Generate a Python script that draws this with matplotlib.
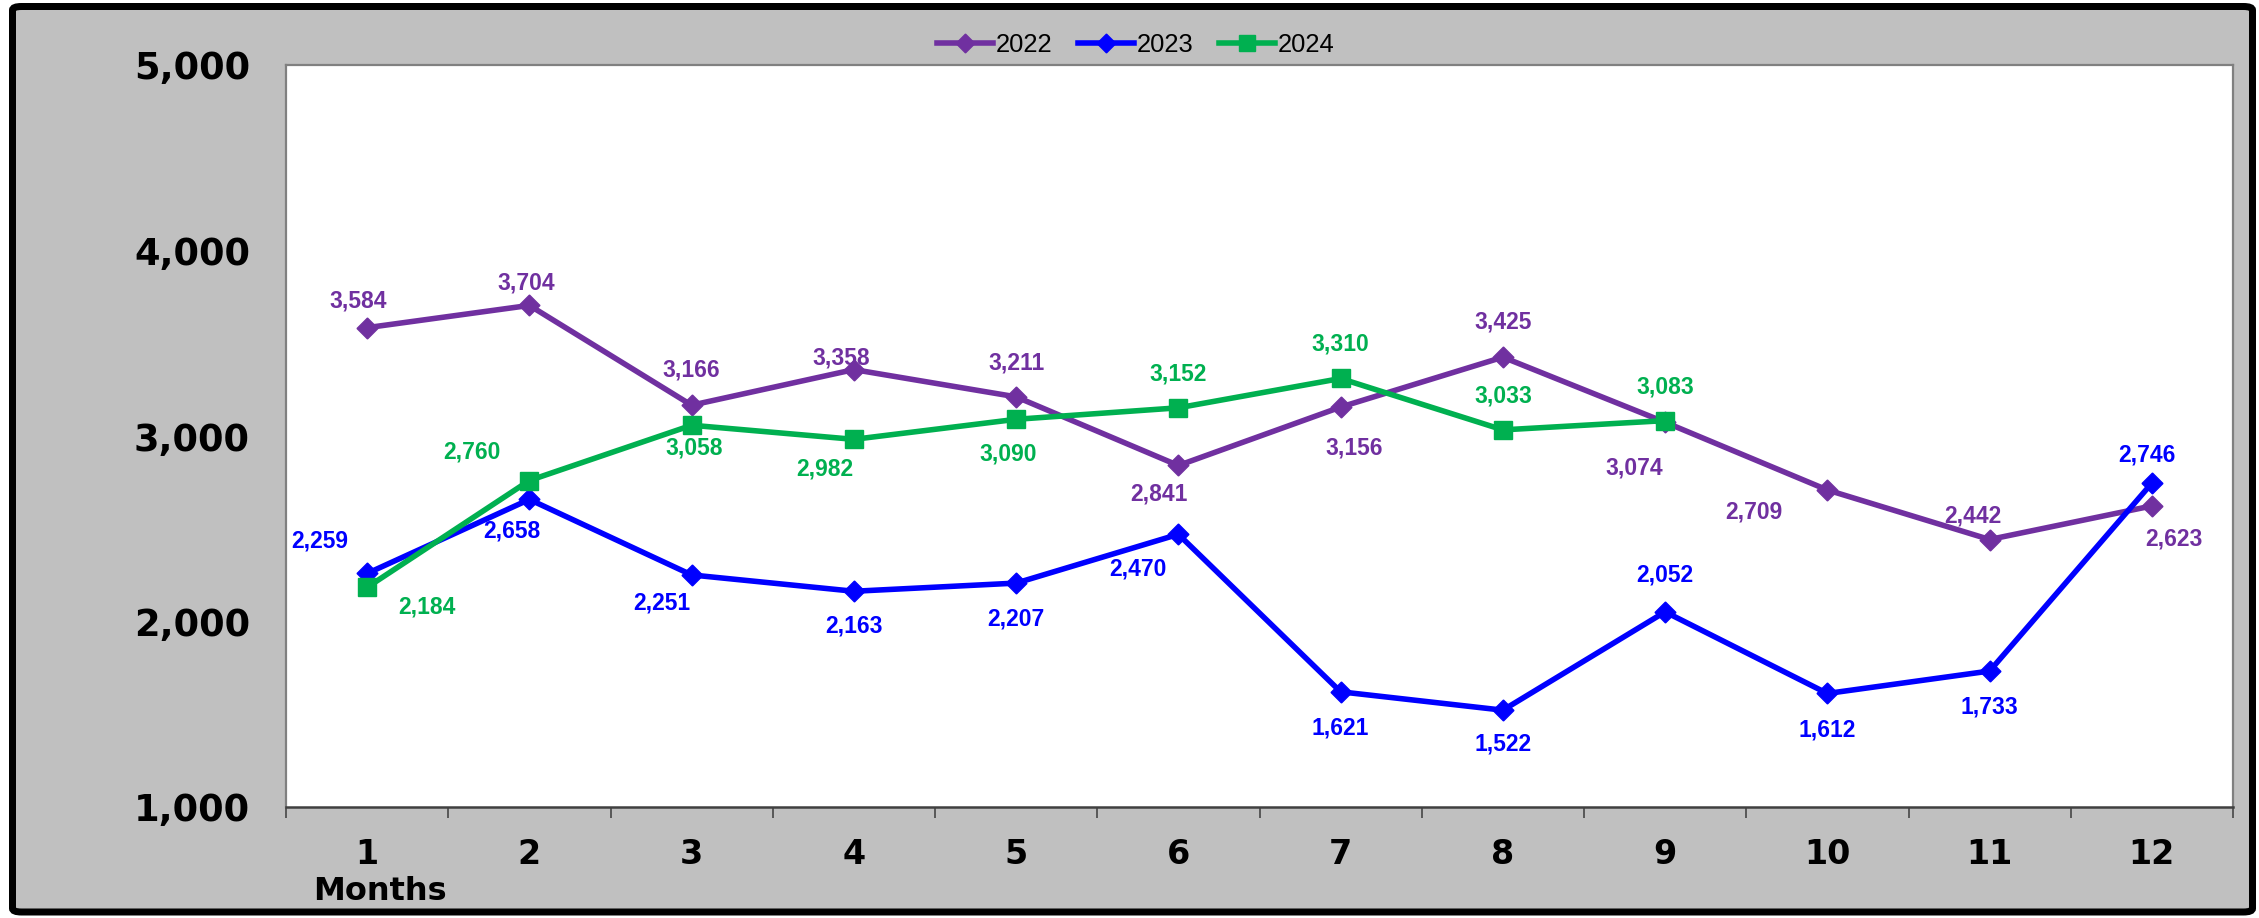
import matplotlib
matplotlib.use("Agg")
import matplotlib.pyplot as plt
from matplotlib.patches import FancyBboxPatch
from matplotlib.ticker import FixedLocator, NullFormatter

# ---------------- data ----------------
months = [1, 2, 3, 4, 5, 6, 7, 8, 9, 10, 11, 12]
sales_2022 = [3584, 3704, 3166, 3358, 3211, 2841, 3156, 3425, 3074, 2709, 2442, 2623]
sales_2023 = [2259, 2658, 2251, 2163, 2207, 2470, 1621, 1522, 2052, 1612, 1733, 2746]
months_2024 = [1, 2, 3, 4, 5, 6, 7, 8, 9]
sales_2024 = [2184, 2760, 3058, 2982, 3090, 3152, 3310, 3033, 3083]
y_ticks = [1000, 2000, 3000, 4000, 5000]
series_names = ["2022", "2023", "2024"]

# label offsets (pixels: dx, dy up-positive) -- layout, not data
off_2022 = [(-9, 27), (-3, 22), (0, 35), (-13, 12), (0, 34), (-19, -29),
            (14, -41), (0, 35), (-31, -46), (-74, -22), (-17, 24), (22, -33)]
off_2023 = [(-47, 32), (-18, -32), (-30, -28), (0, -35), (0, -36), (-40, -35),
            (0, -36), (0, -34), (0, 37), (0, -37), (0, -36), (-5, 28)]
off_2024 = [(60, -20), (-57, 29), (3, -23), (-29, -30), (-8, -35), (0, 34),
            (0, 34), (0, 34), (0, 34)]

W, H, DPI = 2259, 918, 100
fig = plt.figure(figsize=(W / DPI, H / DPI), dpi=DPI, facecolor="white")

# outer grey panel with black frame
lw_px = 7
frame = FancyBboxPatch((12.5 / W, (H - 912) / H), (2252.5 - 12.5) / W, (912 - 6.5) / H,
                       boxstyle="round,pad=0,rounding_size=0.004",
                       transform=fig.transFigure, facecolor="#C0C0C0",
                       edgecolor="black", linewidth=lw_px * 72 / DPI, zorder=-10)
fig.patches.append(frame)

left, right, top, bottom = 286, 2233, 65, 807
ax = fig.add_axes([left / W, (H - bottom) / H, (right - left) / W, (bottom - top) / H])
ax.set_zorder(1)
ax.set_facecolor("white")

purple, blue, green = "#7030A0", "#0000FF", "#00B050"
lw = 4
l1, = ax.plot(months, sales_2022, color=purple, lw=lw, marker=(4, 0, 0), ms=15,
              zorder=3, label=series_names[0])
l2, = ax.plot(months, sales_2023, color=blue, lw=lw, marker=(4, 0, 0), ms=15,
              zorder=4, label=series_names[1])
l3, = ax.plot(months_2024, sales_2024, color=green, lw=lw, marker="s", ms=13,
              zorder=5, label=series_names[2])

lab_font = dict(family=["Liberation Sans", "DejaVu Sans"], fontsize=16.5, fontweight="bold")
for xs, ys, offs, col in [(months, sales_2022, off_2022, purple),
                          (months, sales_2023, off_2023, blue),
                          (months_2024, sales_2024, off_2024, green)]:
    for x, y, (dx, dy) in zip(xs, ys, offs):
        ax.annotate(f"{y:,}", (x, y), xytext=(dx, dy), textcoords="offset pixels",
                    ha="center", va="center", color=col, zorder=6, **lab_font)

ax.set_xlim(0.5, 12.5)
ax.set_ylim(1000, 5000)

# y axis
ax.set_yticks(y_ticks)
ax.set_yticklabels([f"{v:,}" for v in y_ticks])
ax.tick_params(axis="y", length=0, pad=26, labelsize=26.5)
for t in ax.get_yticklabels():
    t.set_fontweight("bold")
    t.set_family("DejaVu Sans")

# x axis: ticks at category boundaries, labels at centers
ax.xaxis.set_major_locator(FixedLocator([m + 0.5 for m in [0] + months]))
ax.xaxis.set_major_formatter(NullFormatter())
ax.xaxis.set_minor_locator(FixedLocator(months))
ax.set_xticklabels([str(m) for m in months], minor=True)
ax.tick_params(axis="x", which="major", length=8, width=1.3, color="#505050", direction="out")
ax.tick_params(axis="x", which="minor", length=0, pad=22, labelsize=24)
for t in ax.get_xticklabels(minor=True):
    t.set_fontweight("bold")
    t.set_family("DejaVu Sans")

for side in ["top", "right", "left"]:
    ax.spines[side].set_color("#808080")
    ax.spines[side].set_linewidth(1.6)
ax.spines["bottom"].set_color("#404040")
ax.spines["bottom"].set_linewidth(1.8)

fig.text(380 / W, 1 - 892 / H, "Months", ha="center", va="center",
         fontsize=23, fontweight="bold", family="DejaVu Sans")

leg = fig.legend(handles=[l1, l2, l3], loc="center", bbox_to_anchor=(1136 / W, 1 - 45 / H),
                 ncol=3, frameon=False, handlelength=2.2, handletextpad=0.1,
                 columnspacing=1.0, prop=dict(family="Liberation Sans", size=18.4),
                 markerscale=0.9)

fig.savefig("out.png", dpi=DPI, facecolor="white")
